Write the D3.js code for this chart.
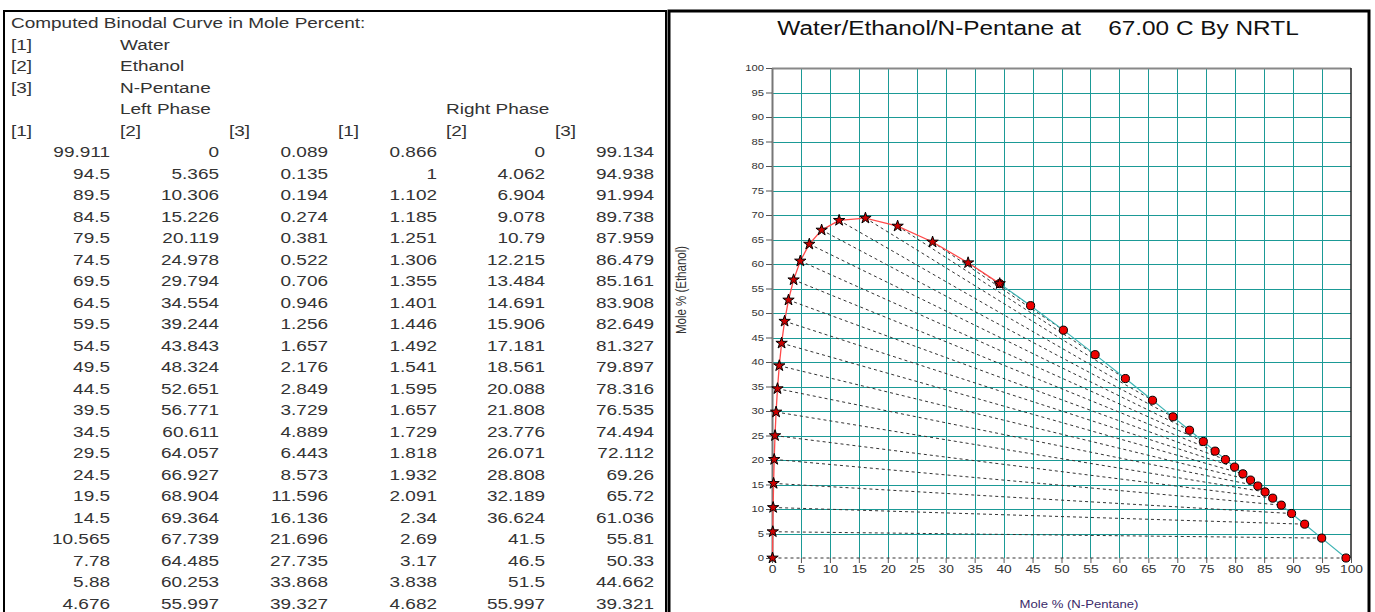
<!DOCTYPE html>
<html>
<head>
<meta charset="utf-8">
<script src="https://cdn.jsdelivr.net/npm/d3@7"></script>
<style>
  body { margin:0; background:#fff; }
  svg { display:block; }
</style>
</head>
<body>
<script>
// binodal data, mole percent  [1] water  [2] ethanol  [3] n-pentane
var leftWater   = [99.911,94.5,89.5,84.5,79.5,74.5,69.5,64.5,59.5,54.5,49.5,44.5,39.5,34.5,29.5,24.5,19.5,14.5,10.565,7.78,5.88,4.676];
var leftEthanol = [0,5.365,10.306,15.226,20.119,24.978,29.794,34.554,39.244,43.843,48.324,52.651,56.771,60.611,64.057,66.927,68.904,69.364,67.739,64.485,60.253,55.997];
var leftPentane = [0.089,0.135,0.194,0.274,0.381,0.522,0.706,0.946,1.256,1.657,2.176,2.849,3.729,4.889,6.443,8.573,11.596,16.136,21.696,27.735,33.868,39.327];
var rightWater   = [0.866,1,1.102,1.185,1.251,1.306,1.355,1.401,1.446,1.492,1.541,1.595,1.657,1.729,1.818,1.932,2.091,2.34,2.69,3.17,3.838,4.682];
var rightEthanol = [0,4.062,6.904,9.078,10.79,12.215,13.484,14.691,15.906,17.181,18.561,20.088,21.808,23.776,26.071,28.808,32.189,36.624,41.5,46.5,51.5,55.997];
var rightPentane = [99.134,94.938,91.994,89.738,87.959,86.479,85.161,83.908,82.649,81.327,79.897,78.316,76.535,74.494,72.112,69.26,65.72,61.036,55.81,50.33,44.662,39.321];

var components = ['Water','Ethanol','N-Pentane'];
var title = 'Water/Ethanol/N-Pentane at    67.00 C By NRTL';
var tickValues = d3.range(0,101,5);

var width = 1375, height = 612;
var svg = d3.select('body').append('svg')
  .attr('width',width)
  .attr('height',height);

//Panel frames
svg.append('rect')
  .attr('x',4).attr('y',11).attr('width',662).attr('height',620)
  .attr('fill','none').attr('stroke','#000').attr('stroke-width',2);
svg.append('rect')
  .attr('x',669).attr('y',11).attr('width',700).attr('height',620)
  .attr('fill','none').attr('stroke','#000').attr('stroke-width',3);

//Table (the source screenshot is stretched sideways, so text is too)
var font = "'Liberation Sans', Arial, sans-serif";
var rowH = 21.5, row0 = 28, stretch = 1.31;
var tbl = svg.append('g')
  .attr('font-family',font)
  .attr('font-size',14.5)
  .attr('fill','#333');

function row(i){ return row0 + i*rowH; }
function put(x,yy,txt,anchor){
  tbl.append('text')
    .attr('transform','translate('+x+','+yy+') scale('+stretch+',1)')
    .attr('text-anchor',anchor || 'start')
    .text(txt);
}

put(11,row(0),'Computed Binodal Curve in Mole Percent:');
components.forEach(function(c,i){
  put(11,row(i+1),'['+(i+1)+']');
  put(120,row(i+1),c);
});
put(120,row(4),'Left Phase');
put(446,row(4),'Right Phase');
var headX = [11,120,229,338,446,555];
headX.forEach(function(x,i){ put(x,row(5),'['+(i%3+1)+']'); });

var colRight = [110,219,328,437,545,654];
var cols = [leftWater,leftEthanol,leftPentane,rightWater,rightEthanol,rightPentane];
cols.forEach(function(col,c){
  col.forEach(function(d,i){ put(colRight[c],row(6+i),String(d),'end'); });
});

//Chart
var x = d3.scaleLinear().domain([0,100]).range([772,1351]);
var y = d3.scaleLinear().domain([0,100]).range([558,68]);

svg.append('text')
  .attr('transform','translate(1038,35) scale(1.25,1)')
  .attr('text-anchor','middle')
  .attr('font-family',font)
  .attr('font-size',19.5)
  .attr('fill','#111')
  .style('white-space','pre')
  .text(title);

var grid = svg.append('g').attr('stroke','#1b9a96').attr('stroke-width',1);
grid.selectAll('line.v').data(tickValues.slice(1,-1)).enter()
  .append('line').attr('class','v')
  .attr('x1',function(d){ return Math.round(x(d))+0.5; }).attr('x2',function(d){ return Math.round(x(d))+0.5; })
  .attr('y1',y(0)).attr('y2',y(100));
grid.selectAll('line.h').data(tickValues.slice(1,-1)).enter()
  .append('line').attr('class','h')
  .attr('y1',function(d){ return Math.round(y(d))+0.5; }).attr('y2',function(d){ return Math.round(y(d))+0.5; })
  .attr('x1',x(0)).attr('x2',x(100));

// frame lines
svg.append('line')
  .attr('x1',x(0)).attr('x2',x(100)).attr('y1',y(100)+0.5).attr('y2',y(100)+0.5)
  .attr('stroke','#888').attr('stroke-width',2);
svg.append('line')
  .attr('x1',x(100)).attr('x2',x(100)).attr('y1',y(100)).attr('y2',y(0))
  .attr('stroke','#222').attr('stroke-width',1.5);

// axes
var yAxis = svg.append('g')
  .attr('transform','translate('+x(0)+',0)')
  .call(d3.axisLeft(y).tickValues(tickValues).tickSize(6).tickSizeOuter(0).tickPadding(2));
yAxis.select('.domain').attr('stroke','#777').attr('stroke-width',2);
yAxis.selectAll('.tick line').attr('stroke','#555');
yAxis.selectAll('text')
  .attr('x',-8/1.25)
  .attr('transform','scale(1.25,1)')
  .attr('font-family',font)
  .attr('font-size',9).attr('fill','#333');

var xAxis = svg.append('g')
  .attr('transform','translate(0,'+y(0)+')')
  .call(d3.axisBottom(x).tickValues(tickValues).tickSize(5).tickSizeOuter(0).tickPadding(2));
xAxis.select('.domain').remove();
xAxis.selectAll('.tick line').attr('stroke','#555');
xAxis.selectAll('text')
  .attr('transform','scale(1.2,1)')
  .attr('font-family',font)
  .attr('font-size',11.5).attr('fill','#333');

svg.append('text')
  .attr('transform','translate(686,290) scale(1.25,1) rotate(-90)')
  .attr('text-anchor','middle')
  .attr('font-family',font)
  .attr('font-size',11.5)
  .attr('fill','#333')
  .text('Mole % (Ethanol)');
svg.append('text')
  .attr('transform','translate(1079,608) scale(1.25,1)')
  .attr('text-anchor','middle')
  .attr('font-family',font)
  .attr('font-size',10.5)
  .attr('fill','#3a2a6a')
  .text('Mole % (N-Pentane)');

// tie lines
var ties = leftPentane.map(function(d,i){
  return {x1:d, y1:leftEthanol[i], x2:rightPentane[i], y2:rightEthanol[i]};
});
svg.append('g').selectAll('line').data(ties).enter()
  .append('line')
  .attr('x1',function(d){ return x(d.x1); })
  .attr('y1',function(d){ return y(d.y1); })
  .attr('x2',function(d){ return x(d.x2); })
  .attr('y2',function(d){ return y(d.y2); })
  .attr('stroke','#333')
  .attr('stroke-width',1)
  .attr('stroke-dasharray','3,3');

var leftPts = leftPentane.map(function(d,i){ return [d,leftEthanol[i]]; });
var rightPts = rightPentane.map(function(d,i){ return [d,rightEthanol[i]]; });
var line = d3.line().x(function(d){ return x(d[0]); }).y(function(d){ return y(d[1]); });

svg.append('path').attr('d',line(rightPts))
  .attr('fill','none').attr('stroke','#3db3b3').attr('stroke-width',1.2);
svg.append('path').attr('d',line(leftPts))
  .attr('fill','none').attr('stroke','#ff4a4a').attr('stroke-width',1.3);

// markers
svg.append('g').selectAll('path').data(rightPts).enter()
  .append('path')
  .attr('transform',function(d){ return 'translate('+x(d[0])+','+y(d[1])+')'; })
  .attr('d',d3.symbol().type(d3.symbolCircle).size(52))
  .attr('fill','#ee0000').attr('stroke','#000').attr('stroke-width',1);
svg.append('g').selectAll('path').data(leftPts).enter()
  .append('path')
  .attr('transform',function(d){ return 'translate('+x(d[0])+','+y(d[1])+')'; })
  .attr('d',d3.symbol().type(d3.symbolStar).size(40))
  .attr('fill','#cc0000').attr('stroke','#000').attr('stroke-width',1);
</script>
</body>
</html>
